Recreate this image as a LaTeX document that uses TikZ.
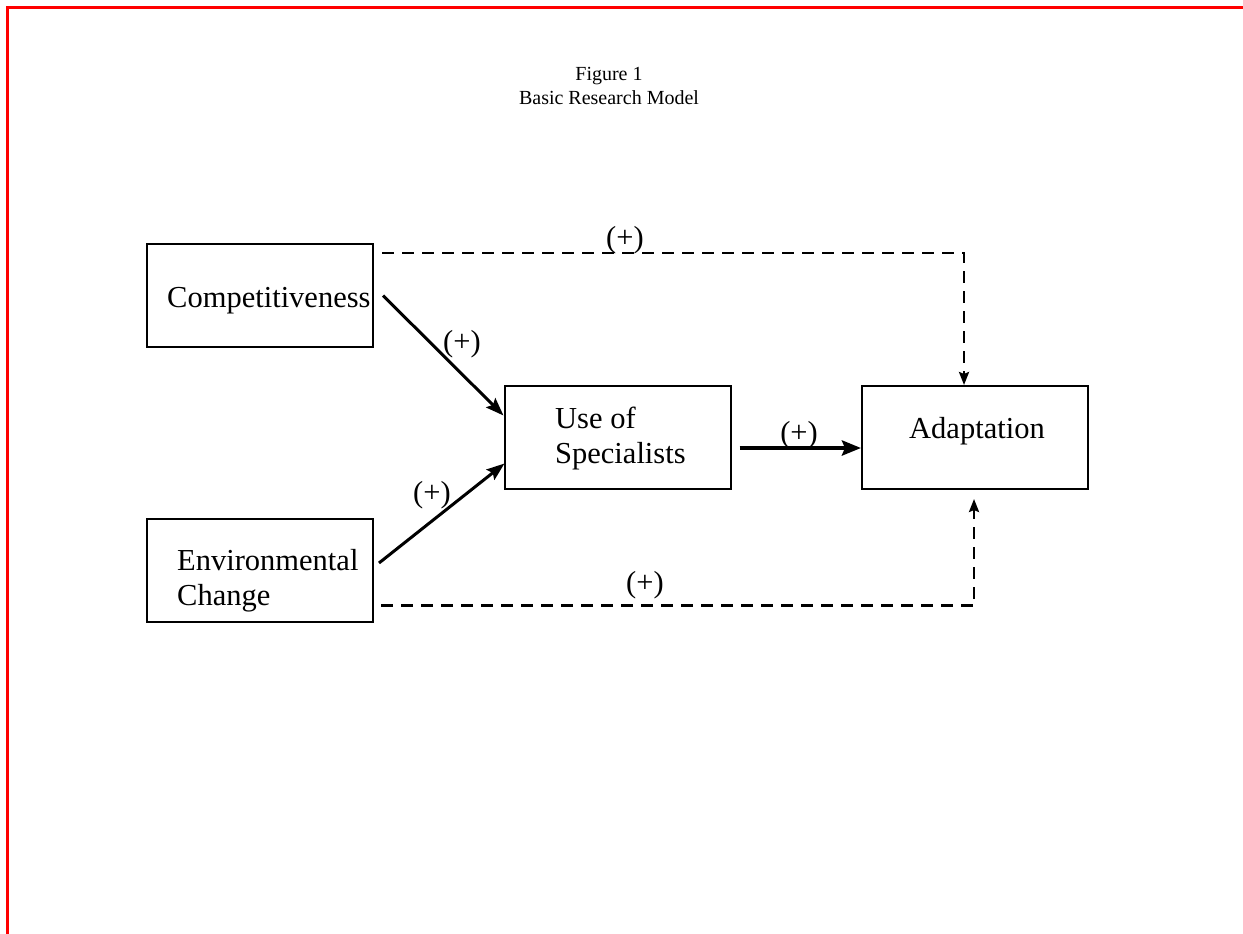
\documentclass[tikz,border=0pt]{standalone}
\usepackage{fontspec}
\setmainfont{Liberation Serif}
\usetikzlibrary{arrows.meta,positioning,calc}
\definecolor{framecol}{HTML}{FF0000}
\newcommand{\bigtxt}{\fontsize{30.5}{34.5}\selectfont}
\newcommand{\smalltxt}{\fontsize{20}{24}\selectfont}

\begin{document}
\begin{tikzpicture}[x=1pt,y=-1pt,font=\bigtxt,
  box/.style={draw,line width=2pt,inner sep=0pt,minimum width=226pt,minimum height=103pt},
  lbl/.style={anchor=base west,align=left,inner sep=0pt},
  sign/.style={inner sep=0pt},
  link/.style={line width=3pt,-{Stealth[length=18pt,width=13pt,inset=3pt]}},
  mainlink/.style={line width=4.5pt,-{Stealth[length=19pt,width=15pt,inset=3pt]}},
  dashlink/.style={line width=2.5pt,dash pattern=on 12pt off 8pt,
                   -{Stealth[length=13pt,width=10pt,inset=2pt]}},
]
\useasboundingbox (0,0) rectangle (1243,934);
\draw[framecol,line width=3pt] (7.5,934) -- (7.5,7.5) -- (1243,7.5);

\node[font=\smalltxt,align=center,anchor=base,inner sep=0pt] (title) at (609,104)
  {Figure 1\\Basic Research Model};

\node[box] (comp) at (260,295.5) {};
\node[box] (env) at (260,570) {};
\node[box] (use) at (617.5,437.5) {};
\node[box] (adapt) at (975,437.5) {};

\node[lbl] (compT) at (167,307) {Competitiveness};
\node[lbl] (envT) at (177,605) {Environmental\\Change};
\node[lbl] (useT) at (555,463) {Use of\\Specialists};
\node[lbl] (adaptT) at (909,438) {Adaptation};

\draw[link] ($(comp.east)+(9,0)$) -- ($(use.west)+(0,-22)$);
\draw[link] ($(env.east)+(5,-7)$) -- ($(use.west)+(1,26)$);
\draw[mainlink] ($(use.east)+(8,10.5)$) -- ($(adapt.west)+(0,10.5)$);
\draw[dashlink] ($(comp.north east)+(8,10)$) -| ($(adapt.north)+(-11,0)$);
\draw[dashlink] ($(env.south east)+(7,-17)$) -| ($(adapt.south)+(-1,9)$);

\node[sign] (plusTop) at (625,240) {(+)};
\node[sign] (plusComp) at (462,344) {(+)};
\node[sign] (plusEnv) at (432,495) {(+)};
\node[sign] (plusUse) at (799,435) {(+)};
\node[sign] (plusBot) at (645,585) {(+)};
\end{tikzpicture}
\end{document}
